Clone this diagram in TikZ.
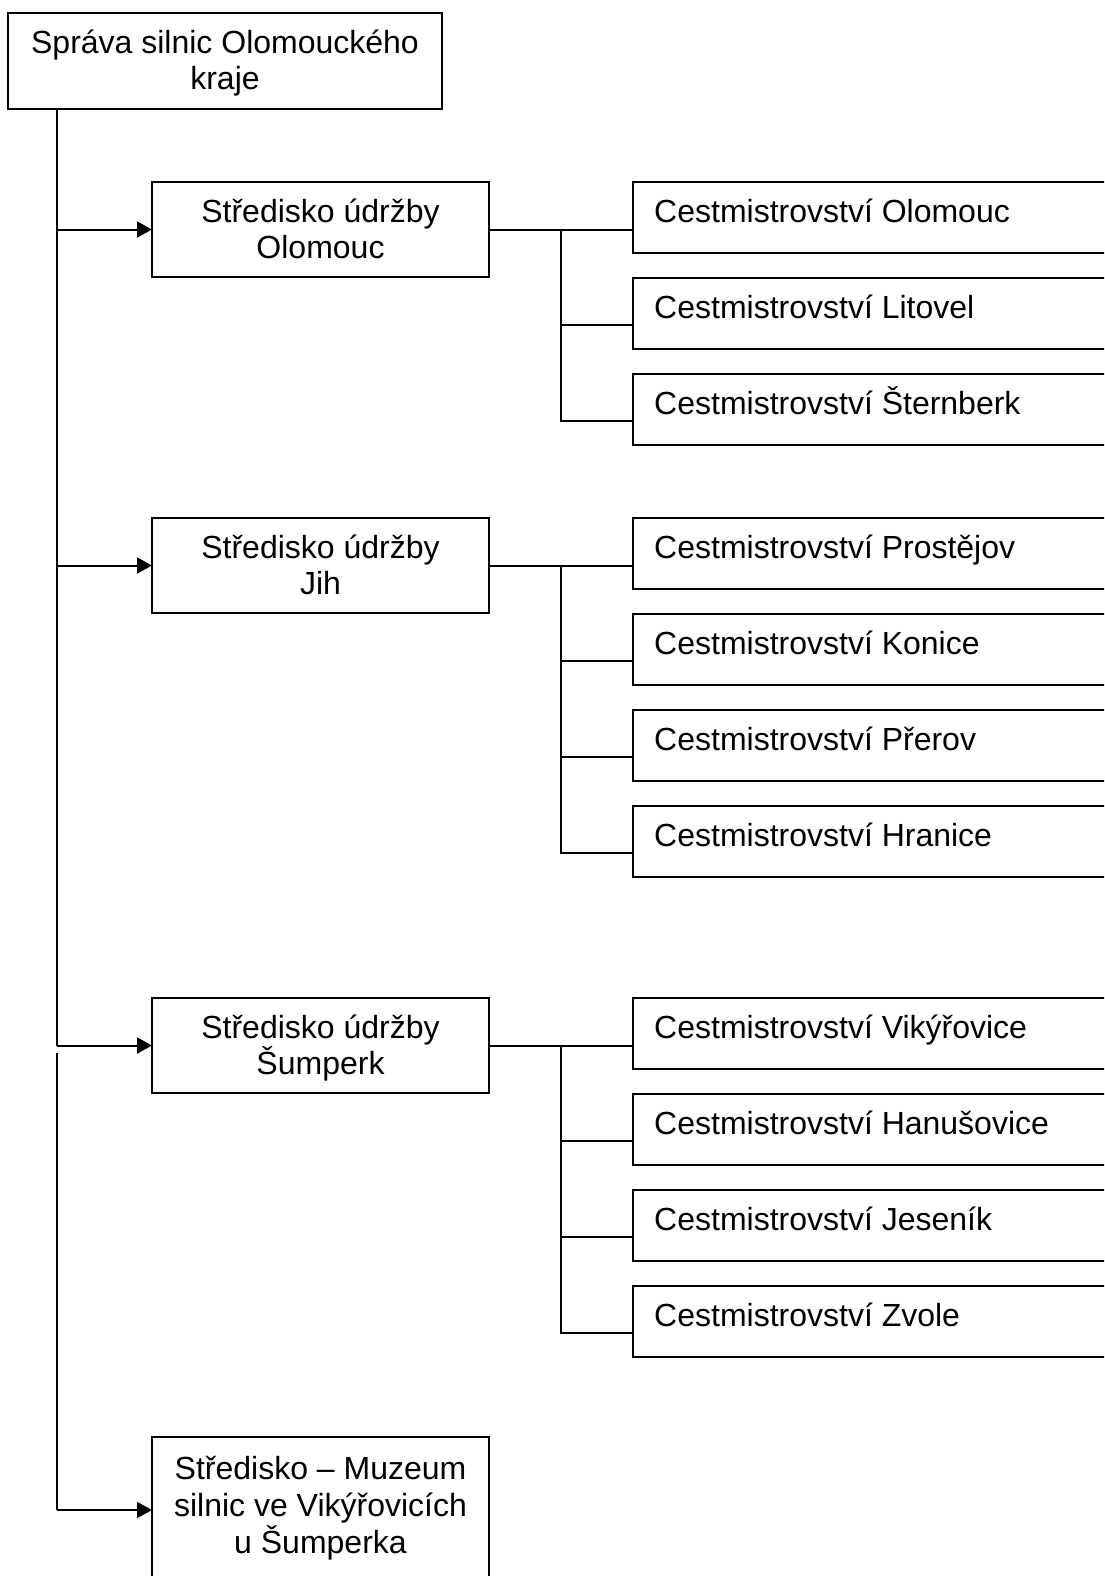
\documentclass[tikz,border=0pt]{standalone}
\usepackage{fontspec}
\setmainfont{Liberation Sans}
\usetikzlibrary{arrows.meta}
\begin{document}
\begin{tikzpicture}[x=1pt,y=-1pt,
  box/.style={draw, line width=2pt, anchor=north west, inner sep=0pt, outer sep=0pt},
  midbox/.style={box, minimum width=337pt, minimum height=95pt},
  subbox/.style={box, minimum width=520pt, minimum height=71pt},
  txt/.style={anchor=base, inner sep=0pt, font=\fontsize{32}{37}\selectfont},
  ltxt/.style={anchor=base west, inner sep=0pt, font=\fontsize{32}{37}\selectfont},
  con/.style={line width=2pt},
  arr/.style={line width=2pt, -{Triangle[length=15pt,width=16pt]}}]
\useasboundingbox (0,0) rectangle (1104,1576);
\clip (0,0) rectangle (1104,1576);
\fill[white] (0,0) rectangle (1104,1576);

% top box
\node[box, minimum width=434pt, minimum height=96pt] (top) at (8,13) {};
\node[txt] (topt1) at (225,53.5) {Správa silnic Olomouckého};
\node[txt] (topt2) at (225,90) {kraje};

% middle boxes
\node[midbox] (m1) at (152,182) {};
\node[txt] (m1a) at (320.5,222) {Středisko údržby};
\node[txt] (m1b) at (320.5,258.5) {Olomouc};

\node[midbox] (m2) at (152,518) {};
\node[txt] (m2a) at (320.5,558) {Středisko údržby};
\node[txt] (m2b) at (320.5,594.5) {Jih};

\node[midbox] (m3) at (152,998) {};
\node[txt] (m3a) at (320.5,1038) {Středisko údržby};
\node[txt] (m3b) at (320.5,1074.5) {Šumperk};

\node[box, minimum width=337pt, minimum height=146pt] (m4) at (152,1437) {};
\node[txt] (m4a) at (320.5,1479) {Středisko – Muzeum};
\node[txt] (m4b) at (320.5,1516) {silnic ve Vikýřovicích};
\node[txt] (m4c) at (320.5,1553) {u Šumperka};

% right boxes
\foreach \n/\t/\lab in {r11/182/Olomouc, r12/278/Litovel, r13/374/Šternberk,
    r21/518/Prostějov, r22/614/Konice, r23/710/Přerov, r24/806/Hranice,
    r31/998/Vikýřovice, r32/1094/Hanušovice, r33/1190/Jeseník, r34/1286/Zvole}{
  \node[subbox] (\n) at (633,\t) {};
  \node[ltxt] (\n t) at (654,\t+40) {Cestmistrovství \lab};
  \coordinate (\n c) at ([yshift=-11.5pt]\n.west);
}

% trunk
\coordinate (tr) at (57,0);
\coordinate (gap) at (57,1053);
\draw[con] (top.south -| tr) -- (tr |- m3.west);
\draw[arr] (tr |- m1.west) -- (m1.west);
\draw[arr] (tr |- m2.west) -- (m2.west);
\draw[arr] (tr |- m3.west) -- (m3.west);
\draw[con] (gap) -- (gap |- m4.west);
\draw[arr] (gap |- m4.west) -- (m4.west);

% branches
\coordinate (br) at (561,0);
\draw[con] (m1.east) -- (m1.east -| r11c);
\draw[con] (br |- m1.east) -- (br |- r13c) -- (r13c);
\draw[con] (br |- r12c) -- (r12c);

\draw[con] (m2.east) -- (m2.east -| r21c);
\draw[con] (br |- m2.east) -- (br |- r24c) -- (r24c);
\draw[con] (br |- r22c) -- (r22c);
\draw[con] (br |- r23c) -- (r23c);

\draw[con] (m3.east) -- (m3.east -| r31c);
\draw[con] (br |- m3.east) -- (br |- r34c) -- (r34c);
\draw[con] (br |- r32c) -- (r32c);
\draw[con] (br |- r33c) -- (r33c);
\end{tikzpicture}
\end{document}
